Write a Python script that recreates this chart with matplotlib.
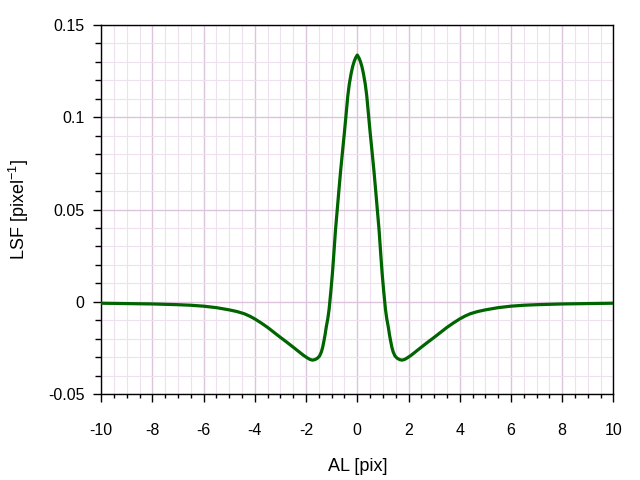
import matplotlib
matplotlib.use("Agg")
import matplotlib.pyplot as plt
from matplotlib.ticker import MultipleLocator

plt.rcParams['font.family'] = ['Liberation Sans', 'DejaVu Sans']
plt.rcParams['axes.unicode_minus'] = False

# LSF curve (right half; curve is symmetric)
x_half = [0.0, 0.06, 0.12, 0.18, 0.24, 0.31, 0.37, 0.44, 0.5, 0.57, 0.65, 0.72,
          0.78, 0.85, 0.91, 0.97, 1.03, 1.1, 1.15, 1.21, 1.26, 1.3, 1.35, 1.4,
          1.47, 1.55, 1.65, 1.75, 1.85, 1.95, 2.1, 2.3, 2.5, 2.75, 3.0, 3.25,
          3.5, 3.75, 4.0, 4.2, 4.41, 4.7, 5.0, 5.5, 6.0, 6.5, 7.0, 8.0, 9.0, 10.0]
lsf_half = [0.1336, 0.1322, 0.1302, 0.1274, 0.1236, 0.1180, 0.1115, 0.1010, 0.0920,
            0.0823, 0.071, 0.060, 0.0503, 0.039, 0.027, 0.0155, 0.006, -0.004,
            -0.009, -0.0135, -0.018, -0.021, -0.0245, -0.027, -0.0292, -0.0304,
            -0.0312, -0.0315, -0.0311, -0.0303, -0.0289, -0.0267, -0.0245,
            -0.0218, -0.0192, -0.0165, -0.0138, -0.0114, -0.0092, -0.0077,
            -0.0064, -0.0052, -0.0043, -0.0031, -0.0023, -0.0018, -0.0015,
            -0.0011, -0.0009, -0.0007]

al = [-v for v in x_half[:0:-1]] + x_half
lsf = lsf_half[:0:-1] + lsf_half

xticks = [-10, -8, -6, -4, -2, 0, 2, 4, 6, 8, 10]
xticklabels = ['-10', '-8', '-6', '-4', '-2', '0', '2', '4', '6', '8', '10']
yticks = [-0.05, 0, 0.05, 0.1, 0.15]
yticklabels = ['-0.05', '0', '0.05', '0.1', '0.15']

fig = plt.figure(figsize=(6.4, 4.8), dpi=100)
ax = fig.add_axes([0.158, 0.1785, 0.8005, 0.77])

ax.plot(al, lsf, color='#006400', lw=2.3, zorder=3,
        solid_joinstyle='round')

ax.set_xlim(-10, 10)
ax.set_ylim(-0.05, 0.15)
ax.set_xticks(xticks)
ax.set_xticklabels(xticklabels)
ax.set_yticks(yticks)
ax.set_yticklabels(yticklabels)
ax.xaxis.set_minor_locator(MultipleLocator(0.5))
ax.yaxis.set_minor_locator(MultipleLocator(0.01))

ax.grid(which='major', color='#dcc4dc', lw=1.0, zorder=0)
ax.grid(which='minor', color='#eee0ee', lw=0.8, zorder=0)
ax.set_axisbelow(True)

ax.tick_params(which='both', direction='out', top=False, right=False,
               labelsize=11.5, width=1, color='black')
ax.tick_params(axis='x', which='major', length=6, pad=15)
ax.tick_params(axis='x', which='minor', length=3)
ax.tick_params(axis='y', which='major', length=6, pad=6)
ax.tick_params(axis='y', which='minor', length=4)
for s in ax.spines.values():
    s.set_linewidth(1.0)

ax.set_xlabel('AL [pix]', fontsize=13, labelpad=14)
ax.set_ylabel('LSF [pixel$^{\\mathregular{-1}}$]', fontsize=13, labelpad=12)

fig.savefig('out.png', dpi=100)
